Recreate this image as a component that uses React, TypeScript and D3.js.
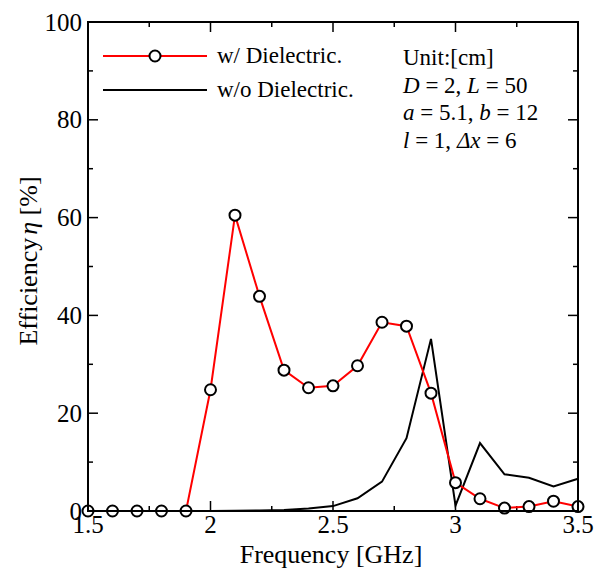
import React, { useRef, useEffect } from 'react';
import * as d3 from 'd3';

const freqs = [1.5, 1.6, 1.7, 1.8, 1.9, 2.0, 2.1, 2.2, 2.3, 2.4, 2.5, 2.6, 2.7, 2.8, 2.9, 3.0, 3.1, 3.2, 3.3, 3.4, 3.5];
const withDielectric = [0, 0, 0, 0, 0, 24.8, 60.5, 43.9, 28.8, 25.2, 25.6, 29.7, 38.6, 37.8, 24.1, 5.8, 2.5, 0.6, 0.9, 2.0, 0.9];
const withoutDielectric = [0, 0, 0, 0, 0, 0, 0.05, 0.1, 0.2, 0.5, 1.0, 2.6, 6.0, 14.9, 35.2, 1.1, 13.9, 7.5, 6.8, 5.0, 6.6];
const xTicks = [1.5, 2, 2.5, 3, 3.5];
const yTicks = [0, 20, 40, 60, 80, 100];
const notes = ['Unit:[cm]', 'D = 2, L = 50', 'a = 5.1, b = 12', 'l = 1, \u0394x = 6'];

const App = () => {
  const svgRef = useRef<SVGSVGElement>(null);

  useEffect(() => {
    const width = 606;
    const height = 572;
    const margin = { top: 22, right: 28, bottom: 61, left: 88 };
    const font = "'Liberation Serif', Tinos, 'Times New Roman', Times, 'DejaVu Serif', serif";

    const svg = d3.select(svgRef.current);
    svg.selectAll('*').remove();
    svg.attr('width', width).attr('height', height).style('font-family', font);

    const x = d3.scaleLinear().domain([1.5, 3.5]).range([margin.left, width - margin.right]);
    const y = d3.scaleLinear().domain([0, 100]).range([height - margin.bottom, margin.top]);
    const x0 = x.range()[0], x1 = x.range()[1];
    const y0 = y.range()[0], y1 = y.range()[1];

    // ticks on all four sides, pointing in
    const g = svg.append('g').attr('stroke', '#000').attr('stroke-width', 1.5);
    const xMinor = d3.range(1.5, 3.5001, 0.25);
    xMinor.forEach(v => {
      const major = xTicks.some(t => Math.abs(t - v) < 1e-6);
      const len = major ? 10 : 5;
      g.append('line').attr('x1', x(v)).attr('x2', x(v)).attr('y1', y0).attr('y2', y0 - len);
      g.append('line').attr('x1', x(v)).attr('x2', x(v)).attr('y1', y1).attr('y2', y1 + len);
    });
    d3.range(0, 100.1, 10).forEach(v => {
      const len = v % 20 === 0 ? 10 : 5;
      g.append('line').attr('y1', y(v)).attr('y2', y(v)).attr('x1', x0).attr('x2', x0 + len);
      g.append('line').attr('y1', y(v)).attr('y2', y(v)).attr('x1', x1).attr('x2', x1 - len);
    });

    // black curve
    const line = d3.line<number>().x((d, i) => x(freqs[i])).y(d => y(d));
    svg.append('path')
      .datum(withoutDielectric)
      .attr('d', line)
      .attr('fill', 'none')
      .attr('stroke', '#000')
      .attr('stroke-width', 2);

    // red curve with markers
    svg.append('path')
      .datum(withDielectric)
      .attr('d', line)
      .attr('fill', 'none')
      .attr('stroke', '#ff0000')
      .attr('stroke-width', 2);
    svg.append('g').selectAll('circle')
      .data(withDielectric)
      .join('circle')
      .attr('cx', (d, i) => x(freqs[i]))
      .attr('cy', d => y(d))
      .attr('r', 5.5)
      .attr('fill', '#fff')
      .attr('stroke', '#000')
      .attr('stroke-width', 2);

    // frame
    svg.append('rect')
      .attr('x', x0).attr('y', y1)
      .attr('width', x1 - x0).attr('height', y0 - y1)
      .attr('fill', 'none').attr('stroke', '#000').attr('stroke-width', 2);

    // tick labels
    svg.append('g').selectAll('text')
      .data(xTicks)
      .join('text')
      .attr('x', d => x(d)).attr('y', y0 + 22)
      .attr('text-anchor', 'middle')
      .attr('font-size', 25)
      .text(d => String(d));
    svg.append('g').selectAll('text')
      .data(yTicks)
      .join('text')
      .attr('x', x0 - 6).attr('y', d => y(d) + 8.5)
      .attr('text-anchor', 'end')
      .attr('font-size', 25)
      .text(d => String(d));

    // axis titles
    svg.append('text')
      .attr('x', 331).attr('y', 563)
      .attr('text-anchor', 'middle')
      .attr('font-size', 26)
      .text('Frequency [GHz]');
    const yl = svg.append('text')
      .attr('transform', 'translate(37, 261) rotate(-90)')
      .attr('text-anchor', 'middle')
      .attr('font-size', 26);
    yl.append('tspan').text('Efficiency');
    yl.append('tspan').attr('font-style', 'italic').attr('dx', 3).text('\u03b7');
    yl.append('tspan').text(' [%]');

    // legend
    const leg = svg.append('g');
    leg.append('line').attr('x1', 103).attr('x2', 207).attr('y1', 56).attr('y2', 56)
      .attr('stroke', '#ff0000').attr('stroke-width', 2);
    leg.append('circle').attr('cx', 155).attr('cy', 56).attr('r', 5.5)
      .attr('fill', '#fff').attr('stroke', '#000').attr('stroke-width', 2);
    leg.append('line').attr('x1', 103).attr('x2', 207).attr('y1', 90).attr('y2', 90)
      .attr('stroke', '#000').attr('stroke-width', 2);
    leg.append('text').attr('x', 217).attr('y', 63)
      .attr('font-size', 23).text('w/ Dielectric.');
    leg.append('text').attr('x', 217).attr('y', 97)
      .attr('font-size', 23).text('w/o Dielectric.');

    // parameter notes, variables in italic
    const italic = new Set(['D', 'L', 'a', 'b', 'l', '\u0394x']);
    notes.forEach((n, i) => {
      const t = svg.append('text')
        .attr('x', 403).attr('y', 65 + i * 27.7)
        .attr('font-size', 23);
      n.split(/(\u0394x|\b[DLabl]\b)/).forEach(part => {
        if (!part) return;
        t.append('tspan')
          .attr('font-style', italic.has(part) ? 'italic' : 'normal')
          .text(part);
      });
    });
  }, []);

  return <svg ref={svgRef} style={{ position: 'absolute', left: 0, top: 0 }}></svg>;
};

export default App;
